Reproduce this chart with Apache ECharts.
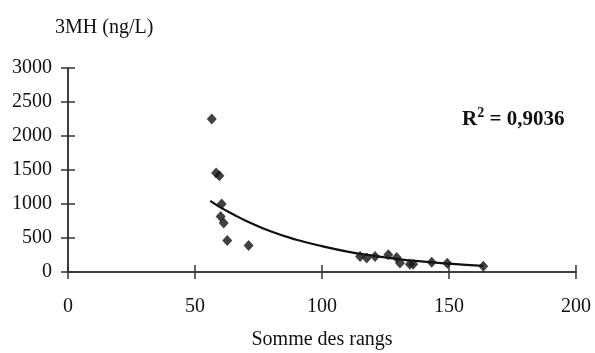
<!DOCTYPE html>
<html>
<head>
<meta charset="utf-8">
<script src="https://cdn.jsdelivr.net/npm/echarts@6/dist/echarts.min.js"></script>
<style>html,body{margin:0;padding:0;background:#fff;}#c{width:595px;height:353px;}</style>
</head>
<body>
<div id="c"></div>
<script>
// Scatter points (Somme des rangs, 3MH ng/L)
const pointX = [56.6, 58.3, 59.6, 60.5, 60.1, 61.3, 62.7, 71.1, 115, 117.6, 120.9, 126.1, 129.4, 130.7, 134.6, 135.9, 143.2, 149.3, 163.5];
const pointY = [2250, 1456, 1416, 1000, 818, 720, 465, 390, 229, 206, 229, 254, 215, 132, 115, 115, 145, 130, 85];
// Trend curve
const trendX = [56, 60, 65, 70, 80, 90, 100, 110, 120, 130, 140, 150, 163.5];
const trendY = [1045, 950, 850, 755, 595, 475, 380, 300, 240, 190, 152, 122, 90];
const xTicks = [0, 50, 100, 150, 200];
const yTicks = [0, 500, 1000, 1500, 2000, 2500, 3000];
const yTitle = '3MH (ng/L)';
const xTitle = 'Somme des rangs';
const r2Value = '0,9036';

const FONT = 'Liberation Serif';
const AX = '#333';
const chart = echarts.init(document.getElementById('c'));
const scatterData = pointX.map((x, i) => [x, pointY[i]]);
const trendData = trendX.map((x, i) => [x, trendY[i]]);

const baseX = {
  type: 'value', min: xTicks[0], max: xTicks[xTicks.length - 1], interval: 50,
  splitLine: { show: false },
  axisLine: { show: true, onZero: false, lineStyle: { color: AX, width: 1.5 } }
};
const baseY = {
  type: 'value', min: yTicks[0], max: yTicks[yTicks.length - 1], interval: 500,
  splitLine: { show: false },
  axisLine: { show: true, onZero: false, lineStyle: { color: AX, width: 1.5 } }
};

chart.setOption({
  animation: false,
  backgroundColor: '#fff',
  grid: { left: 68, right: 19, top: 68, bottom: 81, containLabel: false, outerBoundsMode: 'none' },
  xAxis: [
    Object.assign({}, baseX, {
      axisTick: { show: true, inside: false, length: 7, lineStyle: { color: AX, width: 1.5 } },
      axisLabel: { fontFamily: FONT, fontSize: 20, color: '#111', margin: 25, formatter: v => String(v) },
      name: xTitle, nameLocation: 'middle', nameGap: 58,
      nameTextStyle: { fontFamily: FONT, fontSize: 20, color: '#111' }
    }),
    Object.assign({}, baseX, {
      position: 'bottom',
      axisTick: { show: true, inside: true, length: 7, lineStyle: { color: AX, width: 1.5 } },
      axisLabel: { show: false }
    })
  ],
  yAxis: [
    Object.assign({}, baseY, {
      axisTick: { show: true, inside: false, length: 7, lineStyle: { color: AX, width: 1.5 } },
      axisLabel: { fontFamily: FONT, fontSize: 20, color: '#111', margin: 16, formatter: v => String(v) }
    }),
    Object.assign({}, baseY, {
      position: 'left',
      axisTick: { show: true, inside: true, length: 7, lineStyle: { color: AX, width: 1.5 } },
      axisLabel: { show: false }
    })
  ],
  graphic: [
    { type: 'text', left: 55, top: 18,
      style: { text: yTitle, fontFamily: FONT, fontSize: 20, fill: '#111' } },
    { type: 'text', left: 462, top: 106,
      style: {
        text: '{r|R}{s|2}{r| = ' + r2Value + '}',
        rich: {
          r: { fontFamily: FONT, fontSize: 21, fontWeight: 'bold', fill: '#111', verticalAlign: 'bottom' },
          s: { fontFamily: FONT, fontSize: 14, fontWeight: 'bold', fill: '#111', verticalAlign: 'top', padding: [0, 0, 10, 0] }
        }
      } }
  ],
  series: [
    {
      type: 'line', xAxisIndex: 0, yAxisIndex: 0, data: trendData, smooth: true,
      showSymbol: false, lineStyle: { color: '#111', width: 2.2 }, z: 2
    },
    {
      type: 'scatter', xAxisIndex: 0, yAxisIndex: 0, data: scatterData,
      symbol: 'diamond', symbolSize: [10, 11], itemStyle: { color: '#111' }, z: 3
    }
  ]
});
</script>
</body>
</html>
